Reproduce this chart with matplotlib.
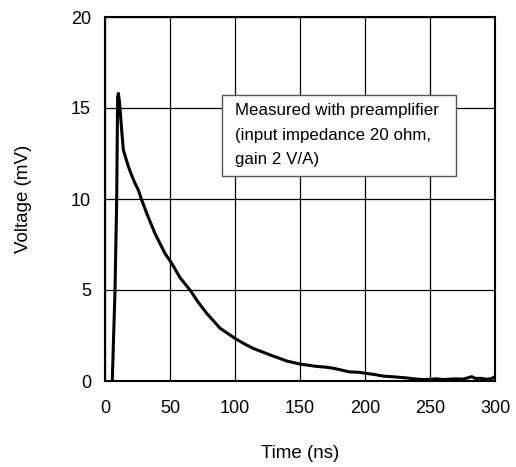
import matplotlib.pyplot as plt
from matplotlib.patches import Rectangle

plt.rcParams['font.family'] = ['Liberation Sans', 'DejaVu Sans']

# pulse
time_ns = [5.6, 7.7, 9.0, 9.7, 10.3, 11.2, 12.8, 14.1, 17.9, 20.5, 23.1, 25.6, 28.2,
           32.1, 38.5, 46.2, 51.3, 57.7, 65.4, 72, 78.2, 88.5, 100, 107, 114,
           121, 127, 134, 139.7, 150, 157, 163, 170, 175.6, 182, 188, 195,
           201, 207, 214, 220, 227, 233, 240, 245, 250, 255, 260, 265, 270,
           275, 278, 282, 285, 288.5, 293, 297, 300]
voltage_mv = [0, 5.0, 10.0, 15.6, 15.8, 15.3, 13.8, 12.7, 11.8, 11.3, 10.86, 10.5, 9.95,
              9.21, 8.1, 7.0, 6.47, 5.68, 5.0, 4.3, 3.72, 2.9, 2.34, 2.05, 1.79,
              1.6, 1.43, 1.25, 1.1, 0.93, 0.86, 0.8, 0.76, 0.7, 0.6, 0.5, 0.48,
              0.42, 0.36, 0.27, 0.24, 0.2, 0.16, 0.1, 0.08, 0.09, 0.12, 0.08, 0.1, 0.12,
              0.1, 0.15, 0.24, 0.14, 0.15, 0.1, 0.12, 0.24]

x_ticks = [0, 50, 100, 150, 200, 250, 300]
y_ticks = [0, 5, 10, 15, 20]
note = 'Measured with preamplifier\n(input impedance 20 ohm,\ngain 2 V/A)'

fig = plt.figure(figsize=(5.16, 4.67), dpi=100)
ax = fig.add_axes([105/516, 1 - 381/467, 390/516, 364/467])

ax.plot(time_ns, voltage_mv, color='black', linewidth=2.2, zorder=3)

ax.set_xlim(0, 300)
ax.set_ylim(0, 20)
ax.set_xticks(x_ticks)
ax.set_yticks(y_ticks)
ax.grid(True, color='black', linewidth=0.9)
ax.tick_params(length=0, labelsize=13)
ax.tick_params(axis='x', pad=14)
ax.tick_params(axis='y', pad=10)
for s in ax.spines.values():
    s.set_linewidth(1.5)

ax.set_xlabel('Time (ns)', fontsize=13.5, labelpad=20)
ax.set_ylabel('Voltage (mV)', fontsize=13.5, labelpad=28)

# note box
ax.add_patch(Rectangle((90, 11.25), 180, 4.45, facecolor='white', edgecolor='#555555',
                       linewidth=1.0, zorder=4))
ax.text(100, 13.5, note, fontsize=12.2, va='center', ha='left', linespacing=1.8, zorder=5)

fig.savefig('out.png', dpi=100)
